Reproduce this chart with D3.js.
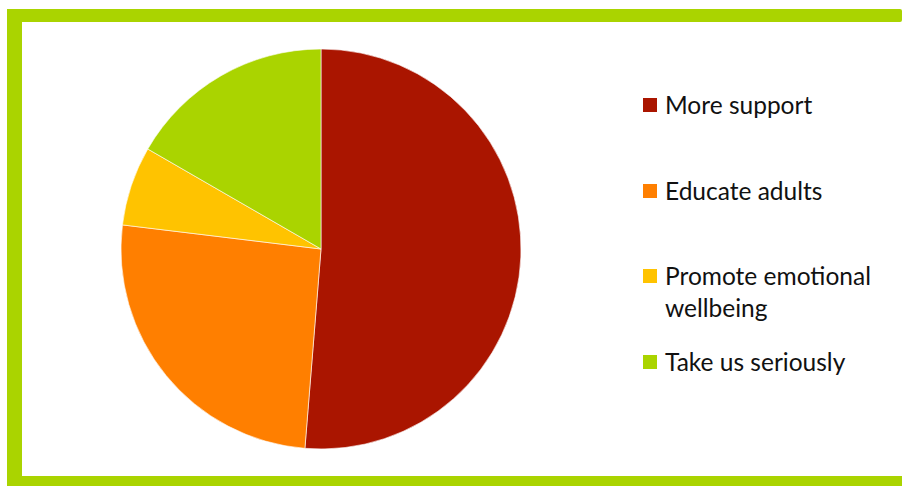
<!DOCTYPE html>
<html>
<head>
<meta charset="utf-8">
<script src="https://cdn.jsdelivr.net/npm/d3@7"></script>
<style>
  html, body { margin: 0; padding: 0; background: #fff; }
  svg { display: block; }
</style>
</head>
<body>
<svg id="chart" width="902" height="486"></svg>
<script>
// Survey responses
const categories = ["More support", "Educate adults", "Promote emotional wellbeing", "Take us seriously"];
const values = [40, 20, 5, 13];
const colors = ["#AA1500", "#FF7F00", "#FFC300", "#AAD400"];
// Legend labels, wrapped into lines
const legendLines = [["More support"], ["Educate adults"], ["Promote emotional", "wellbeing"], ["Take us seriously"]];

const svg = d3.select("#chart");
const W = 902, H = 486;

// Green frame (open on the right)
const frame = "#AAD400";
svg.append("rect").attr("x", 7).attr("y", 9).attr("width", W - 7).attr("height", 13).attr("fill", frame).attr("rx", 2);
svg.append("rect").attr("x", 7).attr("y", 9).attr("width", 15).attr("height", H - 9).attr("fill", frame);
svg.append("rect").attr("x", 7).attr("y", 476).attr("width", W - 7).attr("height", 10).attr("fill", frame);

// Pie
const cx = 321, cy = 249, r = 200;
const pie = d3.pie().sort(null).value(d => d.v);
const arc = d3.arc().innerRadius(0).outerRadius(r);
const data = categories.map((c, i) => ({ c, v: values[i], col: colors[i] }));

svg.append("g")
  .attr("transform", `translate(${cx},${cy})`)
  .selectAll("path")
  .data(pie(data))
  .join("path")
  .attr("d", arc)
  .attr("fill", d => d.data.col)
  .attr("stroke", "#fff")
  .attr("stroke-width", 0.6);

// Legend
const color = d3.scaleOrdinal().domain(categories).range(colors);
const legendY = [114, 200, 285, 371];
const lineH = 32;
const lg = svg.append("g").attr("font-family", "Lato, 'Open Sans', sans-serif").attr("font-size", 24.5).attr("fill", "#111");
categories.forEach((c, i) => {
  lg.append("rect")
    .attr("x", 643).attr("y", legendY[i] - 16)
    .attr("width", 14).attr("height", 14)
    .attr("fill", color(c));
  const t = lg.append("text").attr("x", 665).attr("y", legendY[i]);
  legendLines[i].forEach((ln, j) => {
    t.append("tspan").attr("x", 665).attr("dy", j === 0 ? 0 : lineH).text(ln);
  });
});
</script>
</body>
</html>
